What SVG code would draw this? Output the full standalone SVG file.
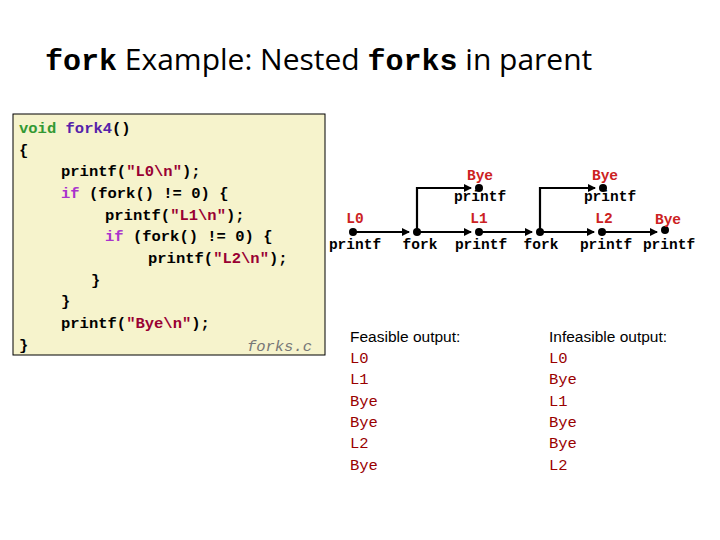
<svg xmlns="http://www.w3.org/2000/svg" width="720" height="540" viewBox="0 0 720 540">
<style>
.c{font-family:"Liberation Mono",monospace;font-weight:bold;font-size:15.5px;fill:#000}
.g{font-family:"Liberation Mono",monospace;font-weight:bold;font-size:14.5px}
.r{fill:#cc2222}
.s{font-family:"Liberation Sans",Arial,sans-serif;font-size:15.5px;fill:#000}
.o{font-family:"Liberation Mono",monospace;font-size:15.5px;fill:#990000}
.ln{stroke:#000;stroke-width:2.2;fill:none}
</style>
<defs>
<marker id="a" markerWidth="8" markerHeight="8" refX="7" refY="4" orient="auto" markerUnits="userSpaceOnUse"><path d="M0,0L8,4L0,8z" fill="#000"/></marker>
</defs>
<rect width="720" height="540" fill="#fff"/>
<g id="title"><text x="45" y="70" font-size="30" font-family="'Open Sans','Liberation Sans',sans-serif"><tspan font-family="'Liberation Mono',monospace" font-weight="bold">fork</tspan> Example: Nested <tspan font-family="'Liberation Mono',monospace" font-weight="bold">forks</tspan> in parent</text></g>
<g id="code">
<rect x="13" y="114" width="312" height="241" fill="#f6f3cc" stroke="#000" stroke-width="1"/>
<text class="c" x="19" y="133"><tspan fill="#339933">void</tspan> <tspan fill="#5522aa">fork4</tspan>()</text>
<text class="c" x="19" y="155">{</text>
<text class="c" x="61" y="176">printf(<tspan fill="#990033">"L0\n"</tspan>);</text>
<text class="c" x="61" y="198"><tspan fill="#aa33cc">if</tspan> (fork() != 0) {</text>
<text class="c" x="105" y="220">printf(<tspan fill="#990033">"L1\n"</tspan>);</text>
<text class="c" x="105" y="241"><tspan fill="#aa33cc">if</tspan> (fork() != 0) {</text>
<text class="c" x="148" y="263">printf(<tspan fill="#990033">"L2\n"</tspan>);</text>
<text class="c" x="91" y="285">}</text>
<text class="c" x="61" y="306">}</text>
<text class="c" x="61" y="328">printf(<tspan fill="#990033">"Bye\n"</tspan>);</text>
<text class="c" x="19" y="350">}</text>
<text x="312" y="351" text-anchor="end" font-family="'Liberation Mono',monospace" font-style="italic" font-size="15.5" fill="#777">forks.c</text>
</g>
<g id="connectors">
<path class="ln" d="M353,232H409" marker-end="url(#a)"/>
<path class="ln" d="M417,232H471" marker-end="url(#a)"/>
<path class="ln" d="M479,232H532" marker-end="url(#a)"/>
<path class="ln" d="M540,232H594" marker-end="url(#a)"/>
<path class="ln" d="M602,232H657" marker-end="url(#a)"/>
<path class="ln" d="M417,232V188H471" marker-end="url(#a)"/>
<path class="ln" d="M540,232V188H595" marker-end="url(#a)"/>
</g>
<g id="nodes">
<g id="n-L0"><circle cx="353" cy="232" r="4"/><text class="g r" x="355" y="223" text-anchor="middle">L0</text><text class="g" x="355" y="249" text-anchor="middle">printf</text></g>
<g id="n-fork1"><circle cx="417" cy="232" r="4"/><text class="g" x="420" y="249" text-anchor="middle">fork</text></g>
<g id="n-L1"><circle cx="479" cy="232" r="4"/><text class="g r" x="479" y="223" text-anchor="middle">L1</text><text class="g" x="481" y="249" text-anchor="middle">printf</text></g>
<g id="n-fork2"><circle cx="540" cy="232" r="4"/><text class="g" x="541" y="249" text-anchor="middle">fork</text></g>
<g id="n-L2"><circle cx="602" cy="232" r="4"/><text class="g r" x="604" y="223" text-anchor="middle">L2</text><text class="g" x="606" y="249" text-anchor="middle">printf</text></g>
<g id="n-Bye3"><circle cx="665" cy="230" r="4"/><text class="g r" x="668" y="224" text-anchor="middle">Bye</text><text class="g" x="669" y="249" text-anchor="middle">printf</text></g>
<g id="n-Bye1"><circle cx="479" cy="188" r="4"/><text class="g r" x="480" y="180" text-anchor="middle">Bye</text><text class="g" x="480" y="201" text-anchor="middle">printf</text></g>
<g id="n-Bye2"><circle cx="603" cy="188" r="4"/><text class="g r" x="605" y="180" text-anchor="middle">Bye</text><text class="g" x="610" y="201" text-anchor="middle">printf</text></g>
</g>
<g id="feasible">
<text class="s" x="350" y="342">Feasible output:</text>
<text class="o" x="350" y="363">L0</text><text class="o" x="350" y="384">L1</text><text class="o" x="350" y="406">Bye</text><text class="o" x="350" y="427">Bye</text><text class="o" x="350" y="448">L2</text><text class="o" x="350" y="470">Bye</text>
</g>
<g id="infeasible">
<text class="s" x="549" y="342">Infeasible output:</text>
<text class="o" x="549" y="363">L0</text><text class="o" x="549" y="384">Bye</text><text class="o" x="549" y="406">L1</text><text class="o" x="549" y="427">Bye</text><text class="o" x="549" y="448">Bye</text><text class="o" x="549" y="470">L2</text>
</g>
</svg>
